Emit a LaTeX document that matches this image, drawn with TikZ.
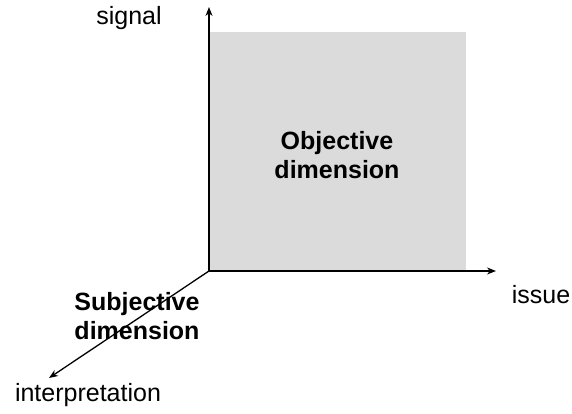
\documentclass[tikz,border=0pt]{standalone}
\usepackage{fontspec}
\setmainfont{Liberation Sans}
\usetikzlibrary{arrows.meta}
\begin{document}
\begin{tikzpicture}[x=1pt,y=1pt,
  axis/.style={line width=1.3pt,-{Stealth[length=9pt,width=7pt]}},
  lbl/.style={font=\fontsize{25}{29}\selectfont,inner sep=0pt},
  dimlbl/.style={font=\fontsize{25}{29}\selectfont\bfseries,align=center,inner sep=0pt},
  plane/.style={fill=black!14,draw=none}]
  \useasboundingbox (0,0) rectangle (572,414);
  % shaded objective plane
  \fill[plane] (209,143) rectangle (466,382);
  % axis end points
  \coordinate (O) at (209,143);
  \coordinate (sigtip) at (209,407);
  \coordinate (isstip) at (496,143);
  \coordinate (inttip) at (49,36);
  % labels
  \node[lbl] (signal) at (129,396) {signal};
  \node[lbl] (issue) at (541,119) {issue};
  \node[lbl] (interp) at (88,19) {interpretation};
  \node[dimlbl] (objective) at (337,259) {Objective\\dimension};
  \node[dimlbl] (subjective) at (137,98) {Subjective\\dimension};
  % axes
  \draw[axis] (O) -- (sigtip);
  \draw[axis] (O) -- (isstip);
  \draw[axis] (O) -- (inttip);
\end{tikzpicture}
\end{document}
